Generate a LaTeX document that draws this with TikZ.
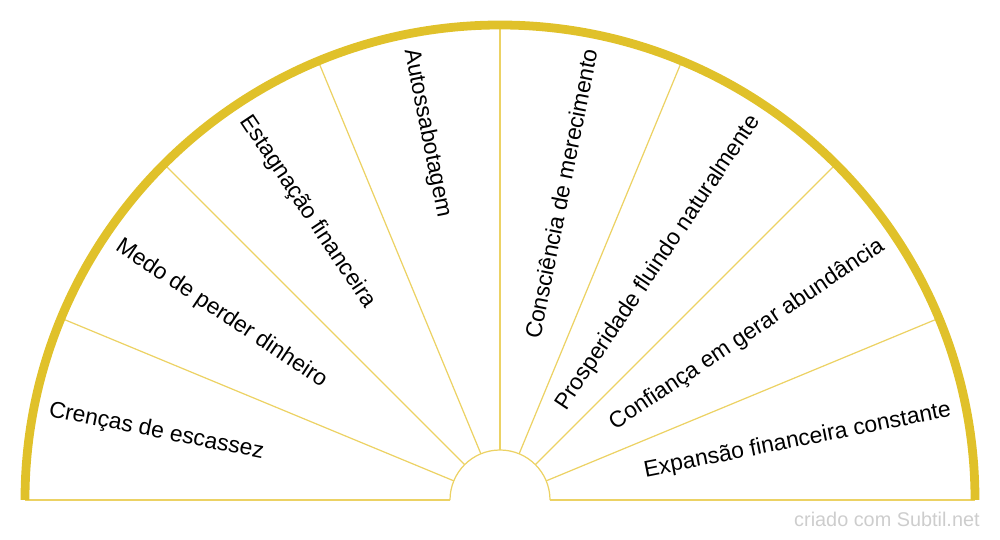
\documentclass[tikz,border=0pt]{standalone}
\usepackage{fontspec}
\setmainfont{Liberation Sans}
\usepackage{xcolor}
\definecolor{RimGold}{RGB}{224,193,42}
\definecolor{SpokeGold}{RGB}{236,210,100}
\definecolor{MarkGray}{RGB}{205,205,205}

\begin{document}
\begin{tikzpicture}[
          rim/.style={draw=RimGold, line width=5pt},
          spoke/.style={draw=SpokeGold, line width=0.7pt},
          lefttag/.style={anchor=west, inner sep=0pt, font=\fontsize{13}{15}\selectfont},
          righttag/.style={anchor=east, inner sep=0pt, font=\fontsize{13}{15}\selectfont},
          credittag/.style={anchor=south east, inner sep=0pt, text=MarkGray, font=\fontsize{11.3}{13}\selectfont}
        ]
          \useasboundingbox (0,0) rectangle (20,10.8);
          \coordinate (hub) at (10,0.8);

          % spokes and inner half circle
          \draw [spoke] ([shift={(180:1)}]hub) -- ([shift={(180:9.5)}]hub);
          \draw [spoke] ([shift={(0:1)}]hub) -- ([shift={(0:9.5)}]hub);
          \foreach \a in {22.5,45,...,157.5}
            \draw [spoke] ([shift={(\a:1)}]hub) -- ([shift={(\a:9.5)}]hub);
          \draw [spoke] ([shift={(0:1)}]hub) arc (0:180:1);

          % outer rim
          \draw [rim] ([shift={(0:9.5)}]hub) arc (0:180:9.5);

          % labels
          \node (scarcity) [lefttag, rotate=-11.25] at ([shift={(168.75:9.2)}]hub) {Crenças de escassez};
          \node (fear) [lefttag, rotate=-33.75] at ([shift={(146.25:9.2)}]hub) {Medo de perder dinheiro};
          \node (stagnation) [lefttag, rotate=-56.25] at ([shift={(123.75:9.2)}]hub) {Estagnação financeira};
          \node (sabotage) [lefttag, rotate=-78.75] at ([shift={(101.25:9.2)}]hub) {Autossabotagem};
          \node (worth) [righttag, rotate=78.75] at ([shift={(78.75:9.2)}]hub) {Consciência de merecimento};
          \node (flow) [righttag, rotate=56.25] at ([shift={(56.25:9.2)}]hub) {Prosperidade fluindo naturalmente};
          \node (trust) [righttag, rotate=33.75] at ([shift={(33.75:9.2)}]hub) {Confiança em gerar abundância};
          \node (growth) [righttag, rotate=11.25] at ([shift={(11.25:9.2)}]hub) {Expansão financeira constante};

          \node (credit) [credittag] at (19.6,0.25) {criado com Subtil.net};
        \end{tikzpicture}
\end{document}
